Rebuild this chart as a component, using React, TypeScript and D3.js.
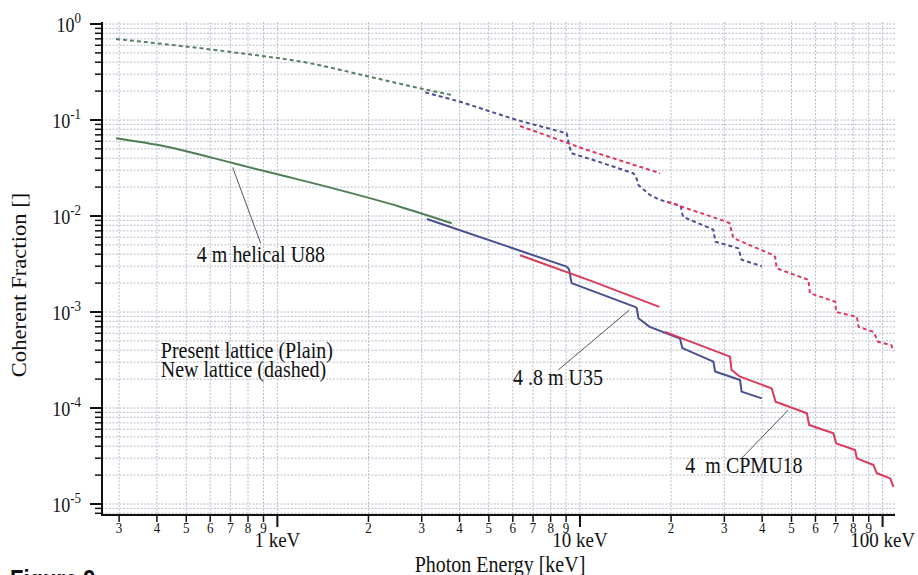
import React, { useEffect, useRef } from 'react';
import * as d3 from 'd3';

const W = 918;
const H = 575;

// photon energy [keV], coherent fraction []
const presentU88 = [[0.293, 0.0645], [0.431, 0.0527], [0.716, 0.0354], [1.0, 0.0272], [1.53, 0.0194], [2.54, 0.0125], [3.77, 0.0084]];
const newU88 = [[0.293, 0.698], [0.716, 0.507], [1.28, 0.39], [2.0, 0.284], [2.96, 0.214], [3.77, 0.182]];

const presentU35 = [
  [3.12, 0.0093], [9.04, 0.00297], [9.2, 0.0028], [9.38, 0.002], [15.2, 0.00113], [15.4, 0.0011], [15.6, 0.00086],
  [17.0, 0.0007], [21.4, 0.00053], [21.8, 0.00042], [27.6, 0.000304], [27.96, 0.00024], [33.8, 0.000196],
  [34.2, 0.000148], [39.9, 0.000126],
];
const newU35 = [
  [3.08, 0.194], [4.02, 0.155], [6.18, 0.1], [9.04, 0.0727], [9.2, 0.055], [9.38, 0.045], [11.07, 0.0383],
  [15.0, 0.0279], [15.3, 0.026], [15.6, 0.021], [17.0, 0.0166], [18.4, 0.0147], [21.5, 0.0128], [21.9, 0.0098],
  [27.6, 0.0072], [28.0, 0.0054], [33.4, 0.0046], [34.2, 0.0035], [39.9, 0.003],
];

const presentCPMU18a = [[6.34, 0.0039], [10.66, 0.00216], [18.3, 0.00113]];
const presentCPMU18b = [
  [19.1, 0.00062], [31.3, 0.000343], [31.7, 0.000249], [33.8, 0.000212], [43.0, 0.00016], [44.3, 0.000116],
  [56.2, 0.0000881], [57.2, 0.0000665], [68.8, 0.0000545], [70.2, 0.0000428], [81.1, 0.0000365],
  [82.2, 0.0000299], [93.3, 0.0000255], [95.7, 0.0000209], [106, 0.0000185], [108.6, 0.0000151],
];
const newCPMU18a = [[6.34, 0.0866], [10.5, 0.049], [18.4, 0.0279]];
const newCPMU18b = [
  [19.4, 0.0141], [30.5, 0.0087], [31.2, 0.0084], [32.1, 0.0059], [43.6, 0.0039], [44.1, 0.00377],
  [44.7, 0.00285], [56.9, 0.00216], [57.5, 0.00157], [69.7, 0.00128], [70.2, 0.001], [82.2, 0.00089],
  [83.3, 0.0007], [93.3, 0.00062], [96.6, 0.00049], [107, 0.00045], [108.6, 0.00039],
];

const xMajor = [1, 10, 100];
const xMajorLabels = ['1 keV', '10 keV', '100 keV'];
const xMinor = [0.3, 0.4, 0.5, 0.6, 0.7, 0.8, 0.9, 2, 3, 4, 5, 6, 7, 8, 9, 20, 30, 40, 50, 60, 70, 80, 90];
const yExponents = [0, -1, -2, -3, -4, -5];

// label text, anchor point, leader line from -> to
const notes = [
  { text: '4 m helical U88', at: [0.542, 0.00334], from: [0.712, 0.032], to: [0.881, 0.0052] },
  { text: '4 .8 m U35', at: [6.01, 0.000174], from: [8.48, 0.000249], to: [14.57, 0.00105] },
  { text: '4  m CPMU18', at: [22.3, 0.0000209], from: [34.2, 0.0000299], to: [48.8, 0.0000953] },
];
const legendLines = ['Present lattice (Plain)', 'New lattice (dashed)'];
const legendAt = [[0.412, 0.000332], [0.412, 0.000212]];

const GREEN = '#4f7d55';
const GREEN_D = '#587e68';
const BLUE = '#484f92';
const RED = '#dc3a5c';
const SY = 1.13; // text in the figure is a bit taller than wide

const App = () => {
  const svgRef = useRef(null);

  useEffect(() => {
    const svg = d3.select(svgRef.current);
    svg.selectAll('*').remove();

    const left = 102, right = 895, top = 22, bottom = 515;
    const x = d3.scaleLog().domain([0.2634, 109.9]).range([left, right]);
    const y = d3.scaleLog().domain([7.68e-6, 1.049]).range([bottom, top]);
    const place = (px, py) => `translate(${px},${py}) scale(1,${SY})`;

    const yMinor = [];
    for (let k = -6; k < 0; k++) {
      for (let m = 2; m <= 9; m++) {
        const v = m * Math.pow(10, k);
        if (v >= y.domain()[0] && v <= y.domain()[1]) yMinor.push(v);
      }
    }
    const yMajor = yExponents.map((e) => Math.pow(10, e));

    // grid
    const grid = svg.append('g').attr('stroke', '#b8bccb').attr('stroke-width', 1).attr('stroke-dasharray', '2,1.5');
    grid.selectAll('.gx')
      .data([...xMinor, ...xMajor])
      .enter()
      .append('line')
      .attr('x1', (d) => x(d)).attr('x2', (d) => x(d))
      .attr('y1', top).attr('y2', bottom);
    grid.selectAll('.gy')
      .data([...yMinor, ...yMajor])
      .enter()
      .append('line')
      .attr('x1', left).attr('x2', right)
      .attr('y1', (d) => y(d)).attr('y2', (d) => y(d));

    // curves (U88 ones are smooth, the others have steps)
    const line = d3.line().x((d) => x(d[0])).y((d) => y(d[1]));
    const smooth = d3.line().x((d) => x(d[0])).y((d) => y(d[1])).curve(d3.curveMonotoneX);
    const series = [
      { data: newU88, color: GREEN_D, dashed: true, smooth: true },
      { data: presentU88, color: GREEN, dashed: false, smooth: true },
      { data: newU35, color: BLUE, dashed: true },
      { data: newCPMU18a, color: RED, dashed: true },
      { data: newCPMU18b, color: RED, dashed: true },
      { data: presentU35, color: BLUE, dashed: false },
      { data: presentCPMU18a, color: RED, dashed: false },
      { data: presentCPMU18b, color: RED, dashed: false },
    ];
    svg.append('g')
      .selectAll('path')
      .data(series)
      .enter()
      .append('path')
      .attr('d', (s) => (s.smooth ? smooth(s.data) : line(s.data)))
      .attr('fill', 'none')
      .attr('stroke', (s) => s.color)
      .attr('stroke-width', 2)
      .attr('stroke-linejoin', 'round')
      .attr('stroke-dasharray', (s) => (s.dashed ? '4,3' : null));

    // annotations
    svg.append('g')
      .selectAll('line')
      .data(notes)
      .enter()
      .append('line')
      .attr('x1', (d) => x(d.from[0])).attr('y1', (d) => y(d.from[1]))
      .attr('x2', (d) => x(d.to[0])).attr('y2', (d) => y(d.to[1]))
      .attr('stroke', '#555')
      .attr('stroke-width', 1);

    const serif = 'Liberation Serif, Times New Roman, serif';
    svg.append('g')
      .selectAll('text')
      .data(notes)
      .enter()
      .append('text')
      .attr('transform', (d) => place(x(d.at[0]), y(d.at[1])))
      .style('font-family', serif).style('font-size', '20px').style('white-space', 'pre')
      .attr('fill', '#111')
      .text((d) => d.text);

    svg.append('g')
      .selectAll('text')
      .data(legendLines)
      .enter()
      .append('text')
      .attr('transform', (d, i) => place(x(legendAt[i][0]), y(legendAt[i][1])))
      .style('font-family', serif).style('font-size', '20px')
      .attr('fill', '#111')
      .text((d) => d);

    // axes
    const ax = svg.append('g').attr('stroke', '#111');
    ax.append('line').attr('x1', left).attr('x2', left).attr('y1', top).attr('y2', bottom + 1).attr('stroke-width', 2);
    ax.append('line').attr('x1', left - 1).attr('x2', right).attr('y1', bottom).attr('y2', bottom).attr('stroke-width', 2);
    ax.selectAll('.ty')
      .data(yMinor)
      .enter()
      .append('line')
      .attr('x1', left - 7).attr('x2', left)
      .attr('y1', (d) => y(d)).attr('y2', (d) => y(d))
      .attr('stroke-width', 1.5);
    ax.selectAll('.tY')
      .data(yMajor)
      .enter()
      .append('line')
      .attr('x1', left - 12).attr('x2', left)
      .attr('y1', (d) => y(d)).attr('y2', (d) => y(d))
      .attr('stroke-width', 2);
    ax.selectAll('.tx')
      .data(xMinor)
      .enter()
      .append('line')
      .attr('x1', (d) => x(d)).attr('x2', (d) => x(d))
      .attr('y1', bottom).attr('y2', bottom + 7)
      .attr('stroke-width', 1.5);
    ax.selectAll('.tX')
      .data(xMajor)
      .enter()
      .append('line')
      .attr('x1', (d) => x(d)).attr('x2', (d) => x(d))
      .attr('y1', bottom).attr('y2', bottom + 12)
      .attr('stroke-width', 2);

    const labels = svg.append('g').style('font-family', serif).attr('fill', '#111');
    labels.selectAll('.lx')
      .data(xMinor)
      .enter()
      .append('text')
      .attr('transform', (d) => place(x(d), bottom + 18))
      .attr('text-anchor', 'middle')
      .style('font-size', '13px')
      .text((d) => String(Math.round(d / Math.pow(10, Math.floor(Math.log10(d) + 1e-9)))));
    labels.selectAll('.lX')
      .data(xMajor)
      .enter()
      .append('text')
      .attr('transform', (d) => place(x(d), bottom + 32))
      .attr('text-anchor', 'middle')
      .style('font-size', '19px')
      .text((d, i) => xMajorLabels[i]);

    const yl = labels.selectAll('.ly')
      .data(yExponents)
      .enter()
      .append('text')
      .attr('transform', (d) => place(81, y(Math.pow(10, d)) + 8))
      .attr('text-anchor', 'end')
      .style('font-size', '18px');
    yl.append('tspan').text('10');
    yl.append('tspan').attr('dy', -8).style('font-size', '13px').text((d) => String(d));

    labels.append('text')
      .attr('transform', `translate(26,${285}) scale(1,${SY}) rotate(-90)`)
      .attr('text-anchor', 'middle')
      .style('font-size', '20px')
      .text('Coherent Fraction []');
    labels.append('text')
      .attr('transform', place(500, 572))
      .attr('text-anchor', 'middle')
      .style('font-size', '20px')
      .text('Photon Energy [keV]');

    svg.append('text')
      .attr('transform', place(10, 588))
      .style('font-family', 'Liberation Sans, Arial, sans-serif')
      .style('font-weight', 'bold')
      .style('font-size', '22px')
      .attr('fill', '#111')
      .text('Figure 9');
  }, []);

  return (
    <svg
      ref={svgRef}
      width={W}
      height={H}
      style={{ position: 'absolute', left: 0, top: 0, background: '#fff' }}
    />
  );
};

export default App;
